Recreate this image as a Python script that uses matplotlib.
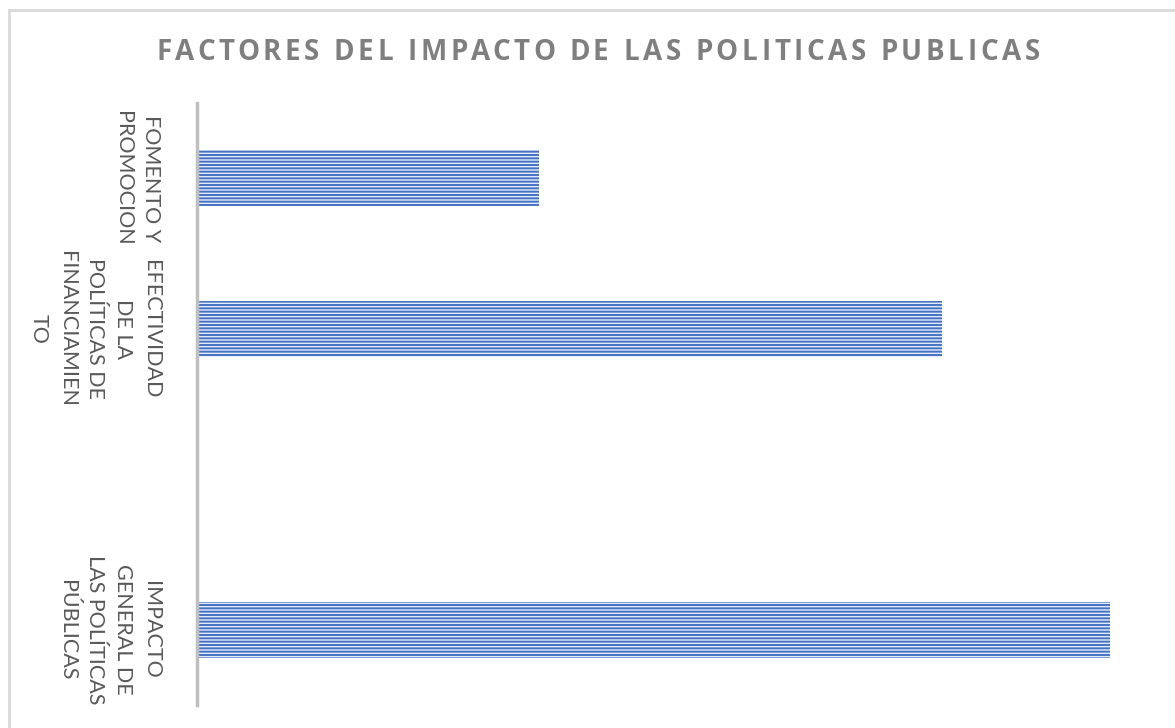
import numpy as np
import matplotlib
matplotlib.use("Agg")
import matplotlib.pyplot as plt
from matplotlib.lines import Line2D

# datos (de arriba hacia abajo)
categorias = [
    "FOMENTO Y\nPROMOCION",
    "EFECTIVIDAD\nDE LA\nPOLÍTICAS DE\nFINANCIAMIEN\nTO",
    "",
    "IMPACTO\nGENERAL DE\nLAS POLÍTICAS\nPÚBLICAS",
]
valores = [37.5, 81.6, 0, 100]
titulo = "FACTORES DEL IMPACTO DE LAS POLITICAS PUBLICAS"

W, H = 1175, 728
plt.rcParams["hatch.linewidth"] = 1.4
fig = plt.figure(figsize=(W / 100, H / 100), dpi=100)
ax = fig.add_axes([197 / W, 1 - 705 / H, (1110 - 197) / W, (705 - 103) / H])

pos = np.arange(len(categorias))
ax.barh(pos, valores, height=0.37, color="#e4ebf7", edgecolor="#4472c4",
        linewidth=0, hatch="-----")

ax.set_ylim(len(categorias) - 0.5, -0.5)
ax.set_xlim(0, max(valores))
ax.set_yticks(pos)
ax.set_yticklabels(categorias, rotation=-90, ha="right", va="center",
                   multialignment="center", fontsize=15.5, color="#595959",
                   family="Lato", linespacing=1.5)
ax.tick_params(axis="y", length=0, pad=26)
ax.set_xticks([])
for s in ["top", "right", "bottom"]:
    ax.spines[s].set_visible(False)
ax.spines["left"].set_color("#bfbfbf")
ax.spines["left"].set_linewidth(2.5)

# titulo con espaciado entre letras
renderer = fig.canvas.get_renderer()
estilo = dict(fontsize=20, fontweight="bold", color="#7f7f7f", family="Open Sans")

def ancho(s):
    t = fig.text(0, 0, s + "X", **estilo)
    w = t.get_window_extent(renderer).width
    t.remove()
    return w

wx = ancho("")
espacio = 3.6
posiciones = [ancho(titulo[:i]) - wx + i * espacio for i in range(len(titulo))]
total = ancho(titulo) - wx + (len(titulo) - 1) * espacio
x0 = 598 - total / 2
for ch, px in zip(titulo, posiciones):
    if ch != " ":
        fig.text((x0 + px) / W, 1 - 53 / H, ch, ha="left", va="center", **estilo)

# borde del grafico (solo arriba e izquierda visibles)
fig.add_artist(Line2D([9 / W, 9 / W], [0, 1 - 10 / H], color="#d9d9d9", lw=2))
fig.add_artist(Line2D([9 / W, 1], [1 - 10 / H, 1 - 10 / H], color="#d9d9d9", lw=2))

fig.savefig("out.png", dpi=100, facecolor="white")
